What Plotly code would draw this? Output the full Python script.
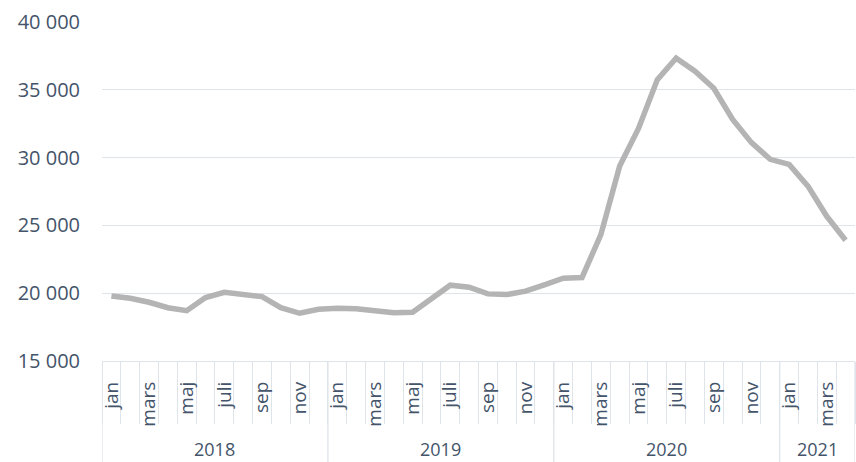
import plotly.graph_objects as go

years = ["2018", "2019", "2020", "2021"]
months_per_year = [12, 12, 12, 4]
month_labels = ["jan", "", "mars", "", "maj", "", "juli", "", "sep", "", "nov", ""]
values = [
    19800, 19630, 19330, 18930, 18710, 19680, 20070, 19930, 19750, 18930, 18520, 18810,
    18890, 18860, 18740, 18560, 18590, 19560, 20590, 20440, 19950, 19900, 20150, 20610,
    21100, 21160, 24320, 29380, 32150, 35750, 37330, 36370, 35110, 32820, 31100, 29870,
    29500, 27900, 25670, 23900,
]
y_ticks = [15000, 20000, 25000, 30000, 35000, 40000]

n = len(values)
x = list(range(n))

tickvals, ticktext = [], []
for i in range(n):
    lab = month_labels[i % 12]
    if lab:
        tickvals.append(i)
        ticktext.append(lab)

grid = "#dfe3ea"
txt = "#44546a"
font = "Open Sans"

fig = go.Figure()
fig.add_trace(go.Scatter(x=x, y=values, mode="lines",
                         line=dict(color="#b4b4b4", width=5.5),
                         hoverinfo="skip"))

shapes, annotations = [], []
start = 0
bounds = [-0.5]
for yr, cnt in zip(years, months_per_year):
    center = start + (cnt - 1) / 2
    annotations.append(dict(x=center, y=0, xref="x", yref="paper", text=yr,
                            showarrow=False, yanchor="middle", yshift=-88,
                            font=dict(family=font, size=18, color=txt)))
    start += cnt
    bounds.append(start - 0.5)
for b in bounds:
    shapes.append(dict(type="line", xref="x", yref="paper", x0=b, x1=b,
                       y0=0, y1=-0.35, line=dict(color=grid, width=1.3)))

fig.update_layout(
    width=856, height=462,
    margin=dict(l=102, r=1, t=22, b=101),
    paper_bgcolor="white", plot_bgcolor="white",
    separators=", ",
    showlegend=False,
    shapes=shapes, annotations=annotations,
    xaxis=dict(range=[-0.5, n - 0.5], tickmode="array", tickvals=tickvals,
               ticktext=ticktext, tickangle=-90, ticks="",
               automargin=False,
               showgrid=False, zeroline=False, showline=True,
               linecolor=grid, linewidth=1.3,
               tickfont=dict(family=font, size=19, color=txt),
               ticklabelstandoff=12,
               minor=dict(tickmode="array", tickvals=[i - 0.5 for i in range(n + 1)],
                          ticks="outside", ticklen=62, tickcolor=grid, tickwidth=1.3,
                          showgrid=False)),
    yaxis=dict(range=[15000, 40000], tickmode="array", tickvals=y_ticks,
               tickformat=",d", showgrid=True, gridcolor=grid, gridwidth=1.3,
               automargin=False,
               zeroline=False, showline=False, ticks="",
               tickfont=dict(family=font, size=20, color=txt),
               ticklabelstandoff=21),
)

fig.write_html("out.html", config={"displayModeBar": False},
               post_script="document.body.style.margin='0';document.body.style.padding='0';")
